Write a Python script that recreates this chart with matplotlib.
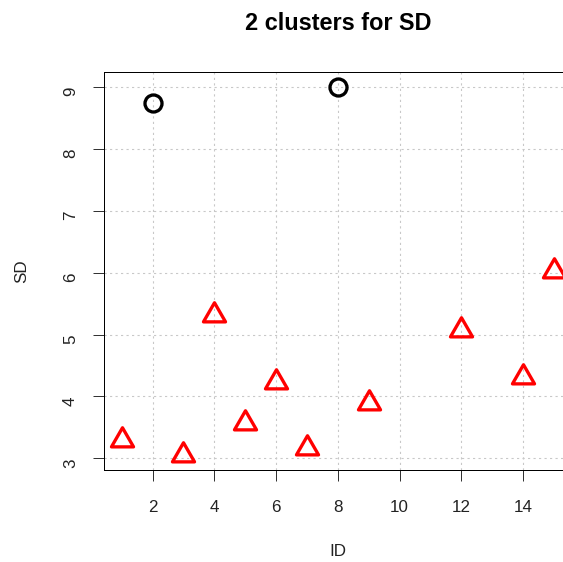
import matplotlib
matplotlib.use("Agg")
import matplotlib.pyplot as plt
from matplotlib.path import Path
import numpy as np

# данные
ids = [1, 2, 3, 4, 5, 6, 7, 8, 9, 12, 14, 15]
sd = [3.29, 8.75, 3.05, 5.32, 3.57, 4.24, 3.16, 9.00, 3.90, 5.08, 4.32, 6.02]
cluster = [2, 1, 2, 2, 2, 2, 2, 1, 2, 2, 2, 2]

x_ticks = [2, 4, 6, 8, 10, 12, 14]
y_ticks = [3, 4, 5, 6, 7, 8, 9]

plt.rcParams['font.family'] = ['Liberation Sans', 'DejaVu Sans']

px = 72 / 100  # один пиксель в пунктах при dpi=100

# треугольник как в R (центр в центроиде)
tri = Path([(0, 1), (-0.866, -0.5), (0.866, -0.5), (0, 1)],
           [Path.MOVETO, Path.LINETO, Path.LINETO, Path.CLOSEPOLY])

fig = plt.figure(figsize=(5.63, 5.62), dpi=100)
W, H = 563, 562
left, right, top, bottom = 104.4, 571.3, 72.3, 470.0
ax = fig.add_axes([left / W, 1 - bottom / H, (right - left) / W, (bottom - top) / H])

ids = np.array(ids)
sd = np.array(sd)
cluster = np.array(cluster)

# как в R: диапазон +4%
def r_range(v):
    d = (v.max() - v.min()) * 0.04
    return v.min() - d, v.max() + d

ax.set_xlim(*r_range(ids))
ax.set_ylim(*r_range(sd))

m1 = cluster == 1
ax.plot(ids[m1], sd[m1], linestyle='none', marker='o', markersize=17 * px,
        markerfacecolor='none', markeredgecolor='black', markeredgewidth=3.3 * px, zorder=3)
ax.plot(ids[~m1], sd[~m1], linestyle='none', marker=tri, markersize=25.5 * px,
        markerfacecolor='none', markeredgecolor='red', markeredgewidth=3.3 * px, zorder=3)

# сетка
for xv in x_ticks + [16]:
    ax.axvline(xv, color='#c8c8c8', lw=1.1 * px, linestyle=(0, (2, 3)), zorder=1)
for yv in y_ticks:
    ax.axhline(yv, color='#c8c8c8', lw=1.1 * px, linestyle=(0, (2, 3)), zorder=1)

ax.set_xticks(x_ticks)
ax.set_yticks(y_ticks)
ax.tick_params(length=11 * px, width=1 * px, color='#333333', labelsize=17 * px,
               labelcolor='#222222', direction='out')
ax.tick_params(axis='x', pad=19 * px)
ax.tick_params(axis='y', pad=23 * px)
for lab in ax.get_yticklabels():
    lab.set_rotation(90)
    lab.set_va('center')
    lab.set_ha('right')
    lab.set_rotation_mode('anchor')
for s in ax.spines.values():
    s.set_linewidth(1 * px)

ax.set_xlabel('ID', fontsize=17 * px, va='center', color='#222222')
ax.xaxis.set_label_coords(0.5, -(552 - bottom) / (bottom - top))
ax.set_ylabel('SD', fontsize=17 * px, va='center', color='#222222')
ax.yaxis.set_label_coords((21.5 - left) / (right - left), 0.5)

fig.text((left + right) / 2 / W, 1 - 24 / H, '2 clusters for SD', fontsize=23.5 * px,
         fontweight='bold', ha='center', va='center')

fig.savefig('out.png', dpi=100)
